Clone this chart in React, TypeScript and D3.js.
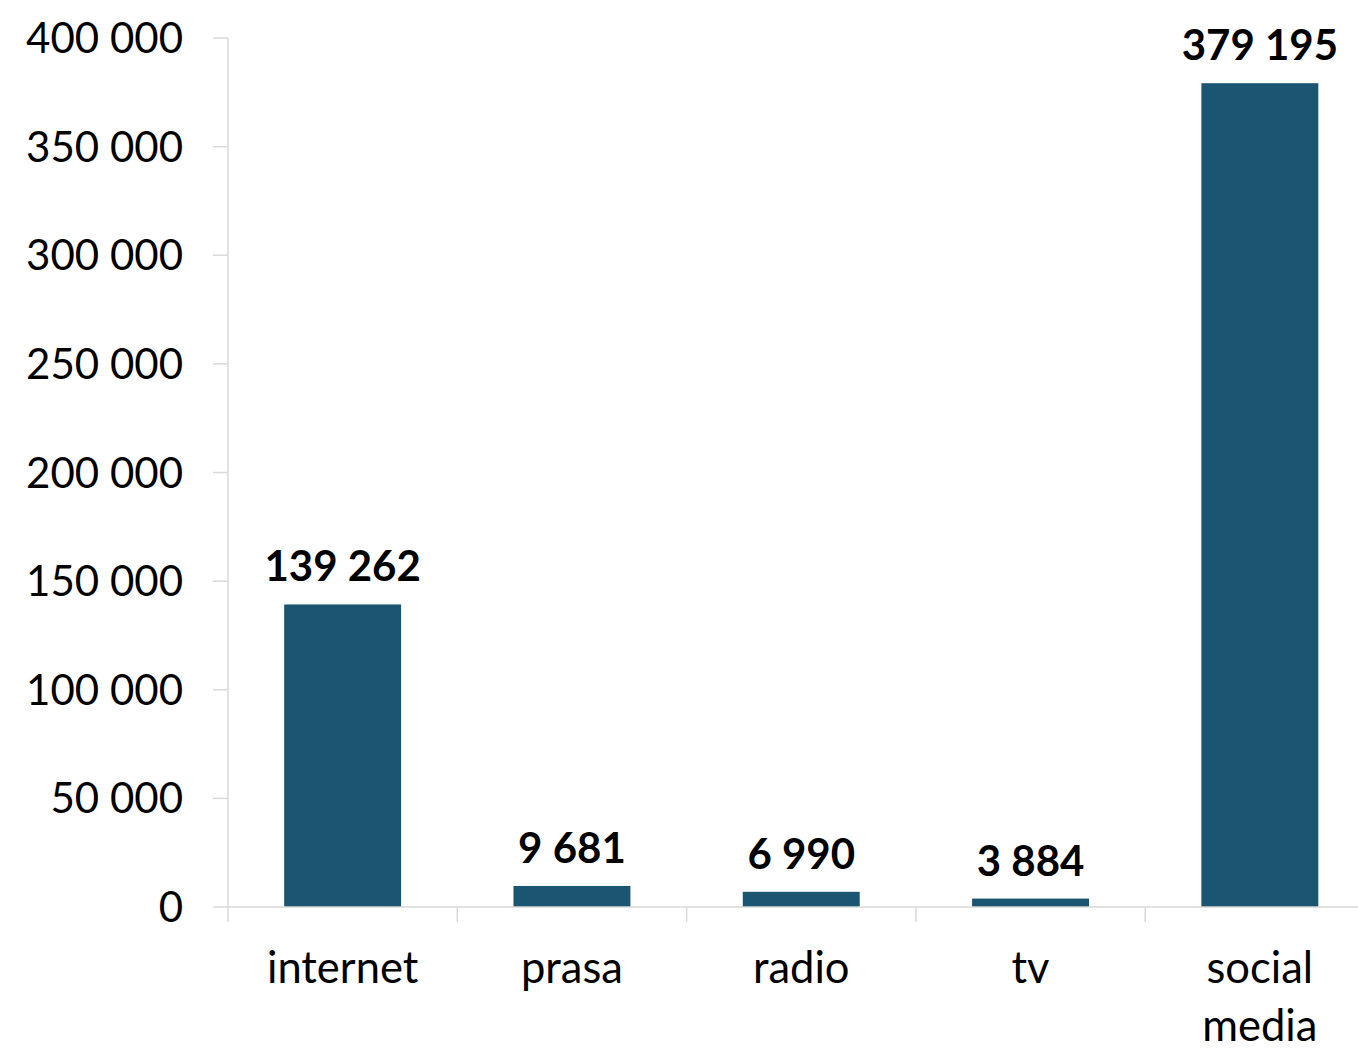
import React from "react";
import * as d3 from "d3";

const categories: string[][] = [["internet"], ["prasa"], ["radio"], ["tv"], ["social", "media"]];
const values: number[] = [139262, 9681, 6990, 3884, 379195];
const yTicks: number[] = [0, 50000, 100000, 150000, 200000, 250000, 300000, 350000, 400000];

const W = 1358;
const H = 1050;
const FONT = "Lato, 'Open Sans', sans-serif";
const BAR = "#1a5572";
const AXIS = "#d9d9d9";

const fmt = (v: number) => d3.format(",")(v).replace(/,/g, " ");

export default function App() {
  const x0 = 228;
  const bandW = 229.3;
  const x = d3
    .scaleBand<number>()
    .domain(d3.range(values.length))
    .range([x0, x0 + bandW * values.length])
    .paddingInner(0.49)
    .paddingOuter(0.245);
  const y = d3.scaleLinear().domain([0, 400000]).range([907, 38]);
  const catTicks = d3.range(values.length + 1).map((i) => x0 + i * bandW);

  return (
    <svg
      width={W}
      height={H}
      style={{ position: "absolute", left: 0, top: 0, background: "#fff" }}
      fontFamily={FONT}
    >
      {/* y axis */}
      <line x1={x0} x2={x0} y1={y(400000)} y2={y(0)} stroke={AXIS} strokeWidth={1.5} />
      {yTicks.map((t) => (
        <g key={t}>
          <line x1={x0 - 15} x2={x0} y1={y(t)} y2={y(t)} stroke={AXIS} strokeWidth={1.5} />
          <text x={183} y={y(t) + 15} textAnchor="end" fontSize={42} fill="#000">
            {fmt(t)}
          </text>
        </g>
      ))}
      {/* bars */}
      {values.map((v, i) => (
        <g key={i}>
          <rect x={x(i)} y={y(v)} width={x.bandwidth()} height={y(0) - y(v)} fill={BAR} />
          <text
            x={(x(i) as number) + x.bandwidth() / 2}
            y={y(v) - 23}
            textAnchor="middle"
            fontSize={42}
            fontWeight="bold"
            fill="#000"
          >
            {fmt(v)}
          </text>
        </g>
      ))}
      {/* x axis */}
      <line x1={x0} x2={W} y1={y(0)} y2={y(0)} stroke={AXIS} strokeWidth={1.5} />
      {catTicks.map((t, i) => (
        <line key={i} x1={t} x2={t} y1={y(0)} y2={y(0) + 15} stroke={AXIS} strokeWidth={1.5} />
      ))}
      {categories.map((lines, i) => (
        <text
          key={i}
          x={(x(i) as number) + x.bandwidth() / 2}
          y={983}
          textAnchor="middle"
          fontSize={43.5}
          fill="#000"
        >
          {lines.map((l, j) => (
            <tspan key={j} x={(x(i) as number) + x.bandwidth() / 2} dy={j === 0 ? 0 : 58}>
              {l}
            </tspan>
          ))}
        </text>
      ))}
    </svg>
  );
}
